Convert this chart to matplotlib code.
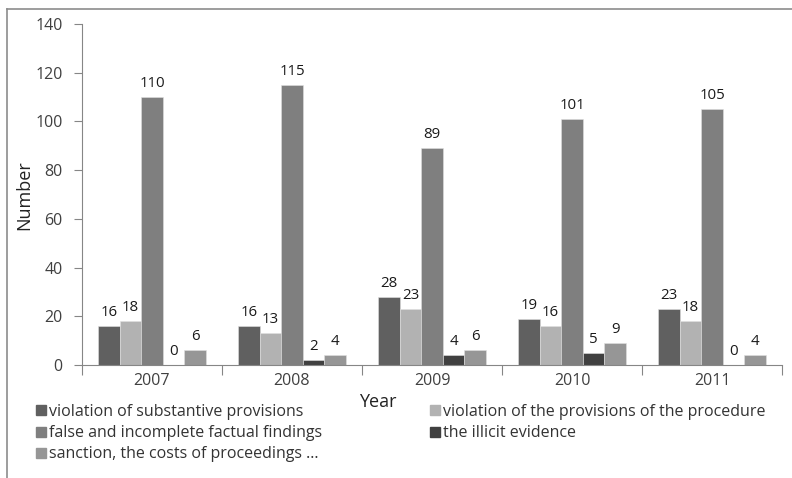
import numpy as np
import matplotlib.pyplot as plt
from matplotlib.lines import Line2D

plt.rcParams['font.family'] = ['Open Sans', 'DejaVu Sans']

years = ['2007', '2008', '2009', '2010', '2011']
substantive = [16, 16, 28, 19, 23]
procedure = [18, 13, 23, 16, 18]
findings = [110, 115, 89, 101, 105]
illicit = [0, 2, 4, 5, 0]
sanction = [6, 4, 6, 9, 4]

names = ['violation of substantive provisions',
         'violation of the provisions of the procedure',
         'false and incomplete factual findings',
         'the illicit evidence',
         'sanction, the costs of proceedings ...']
series = [substantive, procedure, findings, illicit, sanction]
colors = ['#606060', '#b2b2b2', '#7f7f7f', '#404040', '#969696']

fig = plt.figure(figsize=(7.92, 4.78), dpi=100)
ax = fig.add_axes([82/792, 1-365/478, 700/792, 341/478])

x = np.arange(len(years))
w = 1/6.5
for i, (vals, c) in enumerate(zip(series, colors)):
    pos = x + (i-2)*w
    ax.bar(pos, vals, w, color=c, edgecolor='#e0e0e0', linewidth=0.4)
    for p, v in zip(pos, vals):
        ax.text(p, v + 2.5, str(v), ha='center', va='bottom',
                fontsize=10.8, color='#1a1a1a')

ax.set_xlim(-0.5, 4.5)
ax.set_ylim(0, 140)
ax.set_yticks(range(0, 141, 20))
ax.set_xticks(np.arange(-0.5, 4.6, 1))
ax.set_xticklabels([])
ax.set_xticks(x, minor=True)
ax.set_xticklabels(years, minor=True, fontsize=11.5, color='#404040')
ax.tick_params(axis='x', which='minor', length=0, pad=6)
ax.tick_params(axis='x', which='major', length=7, color='#868686')
ax.tick_params(axis='y', length=6, color='#868686', pad=8)
ax.tick_params(axis='y', labelsize=11.5, labelcolor='#404040')
for s in ['top', 'right']:
    ax.spines[s].set_visible(False)
for s in ['left', 'bottom']:
    ax.spines[s].set_color('#868686')

fig.text(378/792, 1-402/478, 'Year', ha='center', va='center', fontsize=13, color='#222222')
fig.text(24/792, 1-195/478, 'Number', ha='center', va='center', rotation=90,
         fontsize=13, color='#222222')

def handle(c):
    return Line2D([], [], marker='s', linestyle='none', markersize=7,
                  markerfacecolor=c, markeredgecolor=c)

leg_kw = dict(frameon=False, fontsize=11.5, handlelength=0.6, handletextpad=0.2,
              labelspacing=0.32, borderaxespad=0, borderpad=0, labelcolor='#333333')
left_idx = [0, 2, 4]
fig.legend([handle(colors[i]) for i in left_idx], [names[i] for i in left_idx],
           loc='upper left', bbox_to_anchor=(36/792, 1-404/478), **leg_kw)
right_idx = [1, 3]
fig.legend([handle(colors[i]) for i in right_idx], [names[i] for i in right_idx],
           loc='upper left', bbox_to_anchor=(430/792, 1-404/478), **leg_kw)

# outer frame, top and left edges only
fig.add_artist(Line2D([7/792, 1], [1-9/478, 1-9/478], color='#8c8c8c', linewidth=1.2))
fig.add_artist(Line2D([7/792, 7/792], [0, 1-9/478], color='#8c8c8c', linewidth=1.2))

fig.savefig('out.png', dpi=100)
